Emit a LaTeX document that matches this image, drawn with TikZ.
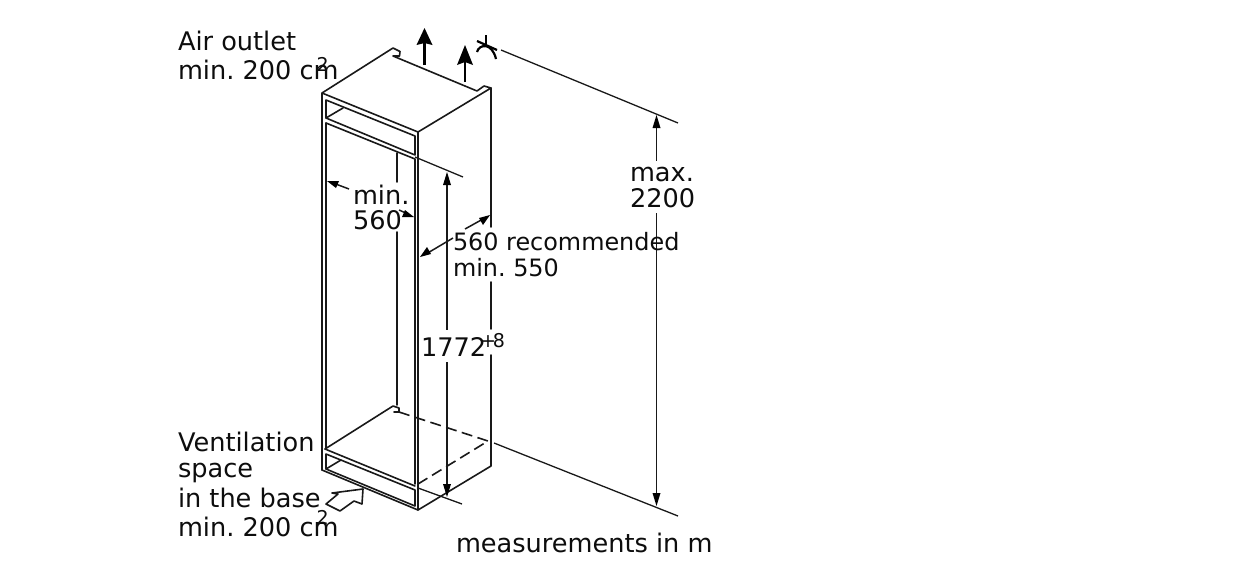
\documentclass[tikz,border=0pt]{standalone}
\usepackage{fontspec}
\setmainfont{DejaVu Sans}
\frenchspacing
\begin{document}
\begin{tikzpicture}[x=1pt,y=-1pt,
 edge/.style={line width=1.6pt,line join=round,line cap=round,draw=black!90},
 thin edge/.style={line width=1.3pt,draw=black!90},
 dim/.style={line width=1.5pt,draw=black!90},
 lbl/.style={anchor=base west,inner sep=0pt,outer sep=0pt,font=\fontsize{25.6}{30}\selectfont,text=black!95},
 lblb/.style={anchor=base west,inner sep=0pt,outer sep=0pt,font=\fontsize{23.9}{28}\selectfont,text=black!95},
 supr/.style={anchor=base west,inner sep=0pt,outer sep=0pt,font=\fontsize{19}{22}\selectfont,text=black!95}]
\useasboundingbox (0,0) rectangle (1246,579);
\fill[white] (0,0) rectangle (1246,579);
% cabinet outer
\draw[edge] (322,470) -- (322,93) -- (393,48) -- (400,51.5) -- (399.5,56) -- (393,56) -- (477,91) -- (484,86) -- (491,88) -- (418,132) -- (322,93);
\draw[edge] (491,88) -- (491,227);
\draw[edge] (491,282) -- (491,329);
\draw[edge] (491,355) -- (491,466) -- (418,510) -- (322,470);
\draw[edge] (418,132) -- (418,510);
% top inner
\draw[edge] (326,100) -- (415,136) -- (415,155) -- (326,118) -- cycle;
\draw[edge] (326,118) -- (343,108);
\draw[edge] (326,123) -- (415,159) -- (415,484);
\draw[edge] (326,123) -- (326,449);
\draw[edge] (397,153) -- (397,182);
\draw[edge] (397,232) -- (397,405);
% bottom inner
\draw[edge] (325,449) -- (393,406) -- (399,408) -- (399,412) -- (394,412);
\draw[edge] (325,449) -- (415,486);
\draw[edge] (326,454) -- (415,490) -- (415,506) -- (326,469) -- cycle;
\draw[edge] (326,469) -- (341,460);
% dashed
\draw[edge,line cap=butt,dash pattern=on 11pt off 5.5pt] (399,412) -- (488,441);
\draw[edge,line cap=butt,dash pattern=on 11pt off 5.5pt] (418,484) -- (488,441);
% extension lines
\draw[thin edge] (415,157) -- (463,177);
\draw[thin edge] (418,488) -- (462,504);
\draw[thin edge] (501,50) -- (678,123);
\draw[thin edge] (494,443) -- (678,516);
% up arrows
\draw[line width=2.4pt] (424.5,65) -- (424.5,42);
\fill (424.5,28) -- (432.5,45) -- (424.5,43) -- (416.5,45) -- cycle;
\draw[line width=2.4pt] (465,82) -- (465,62);
\fill (465,45) -- (473,65) -- (465,62) -- (457,65) -- cycle;
% hinge symbol
\draw[line width=2.2pt] (477,41) -- (497,50);
\draw[line width=2.2pt] (486,35) -- (486,46);
\draw[line width=2.2pt] (477,52) .. controls (479,44) and (492,42) .. (496,59);
% max 2200
\draw[dim] (656.5,125) -- (656.5,161);
\fill (656.5,115) -- (660.5,128) -- (652.5,128) -- cycle;
\draw[dim] (656.5,213) -- (656.5,497);
\fill (656.5,506) -- (660.5,493) -- (652.5,493) -- cycle;
% 1772
\draw[dim] (447,180) -- (447,330);
\draw[dim] (447,362) -- (447,488);
\fill (447,172) -- (451,185) -- (443,185) -- cycle;
\fill (447,497) -- (451,484) -- (443,484) -- cycle;
% min 560
\draw[dim] (333,183) -- (349,189);
\fill (327,181) -- (339,181) -- (336,188) -- cycle;
\draw[dim] (399,210) -- (408,214);
\fill (414,217) -- (402,217) -- (405,210) -- cycle;
% 560 rec
\draw[dim] (426,254) -- (453,238);
\fill (420,257) -- (427,247) -- (431,254) -- cycle;
\draw[dim] (465,229) -- (483,219);
\fill (490,215) -- (483,225) -- (479,218) -- cycle;
% base arrow
\draw[edge] (326,504) -- (338,494) -- (332,493) -- (363,489) -- (362,504) -- (354,501) -- (340,511) -- cycle;
% labels
\node[lbl] (a1) at (178,50) {Air outlet};
\node[lbl] (a2) at (178,79) {min. 200 cm};
\node[supr] (a3) at (316.7,71) {2};
\node[lbl] (m1) at (353,204) {min.};
\node[lbl] (m2) at (353,229) {560};
\node[lblb] (r1) at (453,250) {560 recommended};
\node[lblb] (r2) at (453,276) {min. 550};
\node[lbl] (h1) at (421,356) {1772};
\node[supr] (h2) at (480,347) {+\kern-3pt 8};
\node[lbl] (x1) at (630,181) {max.};
\node[lbl] (x2) at (630,207) {2200};
\node[lbl] (v1) at (178,451) {Ventilation};
\node[lbl] (v2) at (178,477) {space};
\node[lbl] (v3) at (178,507) {in the base};
\node[lbl] (v4) at (178,536) {min. 200 cm};
\node[supr] (v5) at (316.7,524) {2};
\node[lbl] (u) at (456,552) {measurements in m};
\end{tikzpicture}
\end{document}
